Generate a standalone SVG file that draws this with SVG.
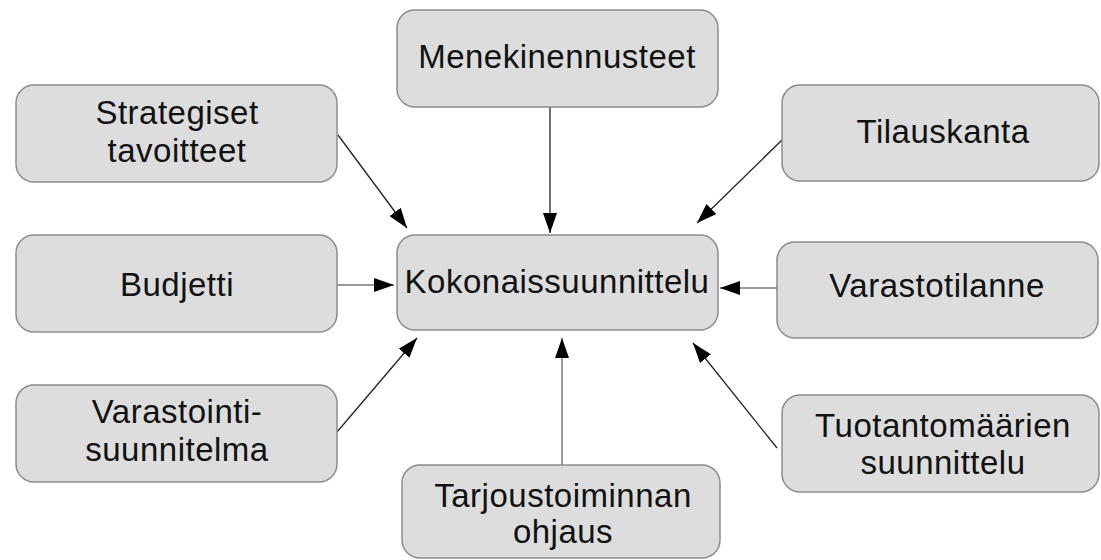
<svg xmlns="http://www.w3.org/2000/svg" width="1101" height="560" viewBox="0 0 1101 560">
  <style>
    .box { fill: #dddddd; stroke: #8c8c8c; stroke-width: 1.5; }
    .lbl { font-family: "Liberation Sans", Arial, sans-serif; font-size: 33px; letter-spacing: 0.5px; fill: #111111; text-anchor: middle; }
    .dark { stroke: #222222; stroke-width: 1.3; fill: none; }
    .grey { stroke: #9a9a9a; stroke-width: 2; fill: none; }
  </style>
  <defs>
    <marker id="arrow" viewBox="0 0 20 14" refX="20" refY="7" markerWidth="20" markerHeight="14" markerUnits="userSpaceOnUse" orient="auto">
      <path d="M0,0 L20,7 L0,14 Z" fill="#000000"/>
    </marker>
  </defs>
  <rect width="1101" height="560" fill="#ffffff"/>

  <g id="connectors">
    <path class="dark" d="M550,107 L550,233" marker-end="url(#arrow)"/>
    <path class="dark" d="M338,135 L407,228" marker-end="url(#arrow)"/>
    <path class="dark" d="M782,140 L697,223" marker-end="url(#arrow)"/>
    <path class="grey" d="M777,288 L720,288" marker-end="url(#arrow)"/>
    <path class="grey" d="M337,285 L394,285" marker-end="url(#arrow)"/>
    <path class="dark" d="M337,432 L417,338" marker-end="url(#arrow)"/>
    <path class="grey" d="M562,465 L562,338" marker-end="url(#arrow)"/>
    <path class="dark" d="M777,448 L693,343" marker-end="url(#arrow)"/>
  </g>

  <g id="menekinennusteet">
    <rect class="box" x="397" y="10" width="321" height="97" rx="18"/>
    <text class="lbl" x="557" y="68">Menekinennusteet</text>
  </g>
  <g id="strategiset">
    <rect class="box" x="16" y="85" width="321" height="97" rx="18"/>
    <text class="lbl" x="177" y="124">Strategiset</text>
    <text class="lbl" x="177" y="162">tavoitteet</text>
  </g>
  <g id="tilauskanta">
    <rect class="box" x="782" y="85" width="317" height="96" rx="18"/>
    <text class="lbl" x="943" y="143">Tilauskanta</text>
  </g>
  <g id="budjetti">
    <rect class="box" x="16" y="235" width="321" height="97" rx="18"/>
    <text class="lbl" x="177" y="296">Budjetti</text>
  </g>
  <g id="kokonaissuunnittelu">
    <rect class="box" x="397" y="235" width="321" height="95" rx="18"/>
    <text class="lbl" x="557" y="293">Kokonaissuunnittelu</text>
  </g>
  <g id="varastotilanne">
    <rect class="box" x="777" y="242" width="321" height="96" rx="18"/>
    <text class="lbl" x="937" y="297">Varastotilanne</text>
  </g>
  <g id="varastointi">
    <rect class="box" x="16" y="385" width="321" height="97" rx="18"/>
    <text class="lbl" x="177" y="423">Varastointi-</text>
    <text class="lbl" x="177" y="461">suunnitelma</text>
  </g>
  <g id="tarjoustoiminnan">
    <rect class="box" x="402" y="465" width="318" height="93" rx="18"/>
    <text class="lbl" x="563" y="507">Tarjoustoiminnan</text>
    <text class="lbl" x="563" y="543">ohjaus</text>
  </g>
  <g id="tuotantomaarien">
    <rect class="box" x="782" y="395" width="317" height="97" rx="18"/>
    <text class="lbl" x="943" y="437">Tuotantomäärien</text>
    <text class="lbl" x="943" y="474">suunnittelu</text>
  </g>
</svg>
